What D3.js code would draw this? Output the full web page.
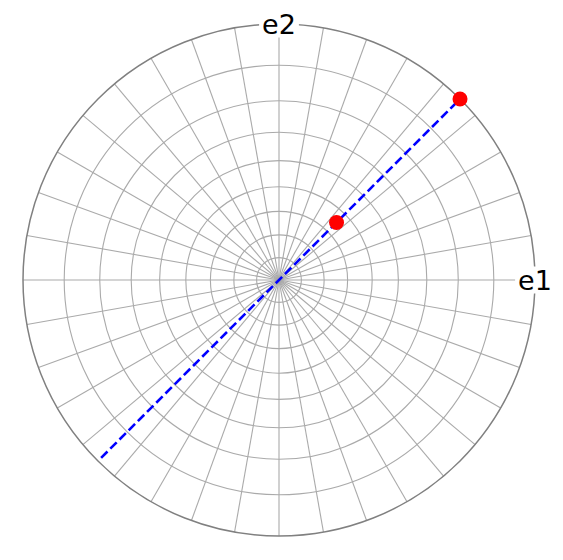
<!DOCTYPE html>
<html><head><meta charset="utf-8">
<script src="https://cdn.jsdelivr.net/npm/d3@7"></script>
<style>html,body{margin:0;padding:0;background:#fff;}</style>
</head><body>
<svg id="c" width="563" height="560"></svg>
<script>
// polar angles (deg) of grid rings, stereographic projection
const ringAngles = [10, 20, 30, 40, 50, 60, 70, 80, 90];
const spokeAzimuths = d3.range(0, 360, 10);
// points: [azimuth deg, polar angle deg]
const pointAz = [45, 45];
const pointPolar = [35.26, 90];
// dashed great circle endpoints: [azimuth, polar]
const lineAz = [225, 45];
const linePolar = [89, 90];
const axisLabels = ["e1", "e2"];

const cx = 279, cy = 280, R = 256;
const svg = d3.select("#c");
const rScale = d3.scaleLinear().domain([0, 1]).range([0, R]);
const proj = (polar) => rScale(Math.tan(polar * Math.PI / 360));
const xy = (az, polar) => {
  const r = proj(polar), a = az * Math.PI / 180;
  return [cx + r * Math.cos(a), cy - r * Math.sin(a)];
};
const g = svg.append("g");
// spokes
g.selectAll("line.spoke").data(spokeAzimuths).enter().append("line")
  .attr("x1", cx).attr("y1", cy)
  .attr("x2", d => xy(d, 90)[0]).attr("y2", d => xy(d, 90)[1])
  .attr("stroke", "#aaaaaa").attr("stroke-width", 1.1);
// rings
g.selectAll("circle.ring").data(ringAngles.slice(0, -1)).enter().append("circle")
  .attr("cx", cx).attr("cy", cy).attr("r", d => proj(d))
  .attr("fill", "none").attr("stroke", "#aaaaaa").attr("stroke-width", 1.1);
// outer circle
g.append("circle").attr("cx", cx).attr("cy", cy).attr("r", proj(90))
  .attr("fill", "none").attr("stroke", "#808080").attr("stroke-width", 1.5);
// dashed line
const p0 = xy(lineAz[0], linePolar[0]), p1 = xy(lineAz[1], linePolar[1]);
g.append("line").attr("x1", p0[0]).attr("y1", p0[1]).attr("x2", p1[0]).attr("y2", p1[1])
  .attr("stroke", "#0000ff").attr("stroke-width", 2.6).attr("stroke-dasharray", "9,4");
// points
g.selectAll("circle.pt").data(pointAz.map((a, i) => xy(a, pointPolar[i]))).enter().append("circle")
  .attr("cx", d => d[0]).attr("cy", d => d[1]).attr("r", 7.5).attr("fill", "#ff0000");
// labels
const labPos = [xy(0, 90), xy(90, 90)];
axisLabels.forEach((t, i) => {
  const [x, y] = labPos[i];
  const txt = svg.append("text").attr("x", x).attr("y", y).attr("text-anchor", "middle")
    .attr("dominant-baseline", "central").attr("font-family", "DejaVu Sans").attr("font-size", 27)
    .attr("fill", "#000").text(t);
  const bb = txt.node().getBBox();
  svg.insert("rect", "text").attr("x", bb.x - 3).attr("y", bb.y + 2).attr("width", bb.width + 6)
    .attr("height", bb.height - 4).attr("fill", "#fff");
});
</script>
</body></html>
